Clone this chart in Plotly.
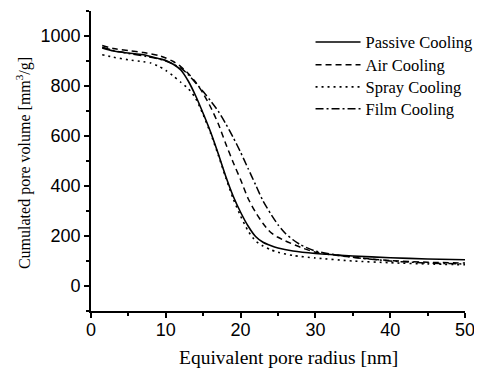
import plotly.graph_objects as go

# Passive Cooling (solid)
x_passive = [1.5, 3, 5, 7, 9, 10, 11, 12, 13, 14, 15, 16, 17, 18, 19, 20, 21, 22, 23, 24, 25, 27, 30, 35, 40, 45, 50]
y_passive = [952, 940, 932, 925, 910, 902, 887, 864, 820, 760, 690, 615, 530, 440, 360, 295, 240, 198, 175, 162, 152, 140, 130, 120, 113, 108, 105]

# Air Cooling (dashed)
x_air = [1.5, 3, 5, 7, 9, 10, 11, 12, 13, 14, 15, 16, 17, 18, 19, 20, 21, 22, 23, 24, 25, 26, 28, 30, 35, 40, 45, 50]
y_air = [962, 950, 942, 934, 922, 912, 898, 878, 850, 815, 770, 715, 650, 570, 495, 425, 350, 295, 250, 215, 195, 180, 155, 135, 115, 102, 95, 92]

# Spray Cooling (dotted)
x_spray = [1.5, 3, 5, 7, 8, 9, 10, 11, 12, 13, 14, 15, 16, 17, 18, 19, 20, 21, 22, 23, 24, 25, 27, 30, 35, 40, 45, 50]
y_spray = [925, 915, 905, 897, 892, 880, 862, 840, 815, 790, 750, 685, 610, 525, 435, 350, 280, 220, 180, 160, 145, 135, 122, 112, 100, 93, 88, 85]

# Film Cooling (dash-dot)
x_film = [1.5, 3, 5, 8, 10, 12, 13, 14, 15, 16, 17, 18, 19, 20, 21, 22, 23, 24, 25, 26, 27, 28, 30, 35, 40, 45, 50]
y_film = [955, 942, 930, 915, 900, 872, 845, 812, 778, 740, 700, 650, 595, 535, 470, 405, 340, 290, 245, 210, 185, 165, 140, 115, 100, 92, 88]

series_names = ["Passive Cooling", "Air Cooling", "Spray Cooling", "Film Cooling"]

x_ticks = [0, 10, 20, 30, 40, 50]
y_ticks = [0, 200, 400, 600, 800, 1000]

x_title = "Equivalent pore radius [nm]"
y_title = "Cumulated pore volume [mm<sup>3</sup>/g]"

serif = "Liberation Serif, Times New Roman, serif"
sans = "Liberation Sans, Arial, sans-serif"

fig = go.Figure()
styles = [
    dict(dash="solid", width=1.6),
    dict(dash="6px,4px", width=1.5),
    dict(dash="2px,4px", width=1.6),
    dict(dash="8px,3px,2px,3px", width=1.5),
]
legend_ids = ["legend", "legend2", "legend3", "legend4"]
data = [(x_passive, y_passive), (x_air, y_air), (x_spray, y_spray), (x_film, y_film)]
for (xs, ys), name, st, lg in zip(data, series_names, styles, legend_ids):
    fig.add_trace(go.Scatter(x=xs, y=ys, mode="lines", name=name, legend=lg,
                             line=dict(color="black", shape="spline", smoothing=0.6, **st)))

axis_common = dict(
    showline=True, linecolor="black", linewidth=1.8,
    ticks="outside", tickcolor="black", tickwidth=1.5, ticklen=5,
    showgrid=False, zeroline=False, mirror=False, automargin=False,
    tickfont=dict(family=sans, size=18, color="black"),
)

fig.update_xaxes(range=[0, 50], tickvals=x_ticks, ticklabelstandoff=-4,
                 minor=dict(dtick=5, ticks="outside", ticklen=3, tickcolor="black", tickwidth=1.5),
                 **axis_common)
fig.update_yaxes(range=[-100, 1100], tickvals=y_ticks,
                 minor=dict(dtick=100, ticks="outside", ticklen=3, tickcolor="black", tickwidth=1.5),
                 **axis_common)

# axis titles placed as annotations for exact positioning
fig.add_annotation(text=x_title, xref="paper", yref="paper", x=0.527, y=-0.155,
                   xanchor="center", yanchor="middle", showarrow=False,
                   font=dict(family=serif, size=19.5, color="black"))
fig.add_annotation(text=y_title, xref="paper", yref="paper", x=-0.18, y=0.492,
                   xanchor="center", yanchor="middle", showarrow=False, textangle=-90,
                   font=dict(family=serif, size=16, color="black"))

legend_style = dict(xanchor="left", yanchor="middle", bgcolor="rgba(0,0,0,0)",
                    font=dict(family=serif, size=16.5, color="black"), itemwidth=45)
row_y = [0.896, 0.820, 0.746, 0.673]

# page has an 8px body margin, so the figure is sized/margined to land the plot area correctly
fig.update_layout(
    width=474, height=360,
    margin=dict(l=83, r=17, t=3, b=57, autoexpand=False),
    paper_bgcolor="white", plot_bgcolor="white",
    showlegend=True,
    legend=dict(x=0.587, y=row_y[0], **legend_style),
    legend2=dict(x=0.587, y=row_y[1], **legend_style),
    legend3=dict(x=0.587, y=row_y[2], **legend_style),
    legend4=dict(x=0.587, y=row_y[3], **legend_style),
)

fig.write_html("out.html")
